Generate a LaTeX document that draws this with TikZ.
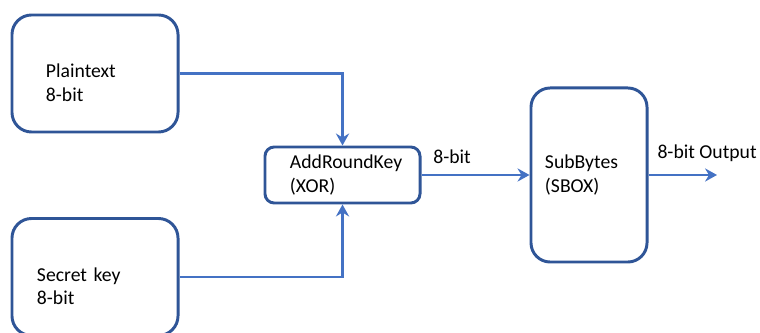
\documentclass[tikz,border=0pt]{standalone}
\usepackage{fontspec}
\setmainfont{Carlito}
\usepackage{tikz}
\usetikzlibrary{arrows.meta,positioning}
\definecolor{boxline}{HTML}{2F5597}
\definecolor{flowline}{HTML}{4472C4}
\newcommand{\toppad}{\rule{0pt}{23pt}}

\begin{document}
\begin{tikzpicture}[x=0.025cm, y=-0.025cm,
    font=\fontsize{14}{16.5}\selectfont,
    block/.style={draw=boxline, line width=2.1pt, align=left, inner ysep=0pt},
    flow/.style={draw=flowline, line width=1.6pt, -{Stealth[length=0.3cm, width=0.33cm, inset=0.1cm]}}]
  \useasboundingbox (0,0) rectangle (760,333);
  \node[block, rounded corners=0.49cm, minimum height=2.925cm, inner xsep=0.85cm, text width=2.45cm] (plain) at (95,73.5) {\toppad Plaintext\\8-bit};
  \node[block, rounded corners=0.49cm, minimum height=2.925cm, inner xsep=0.625cm, text width=2.9cm] (key) at (95,277) {\toppad Secret key\\8-bit};
  \node[block, rounded corners=0.23cm, minimum height=1.4cm, inner xsep=0.625cm, text width=2.625cm] (xor) at (342.5,175) {AddRoundKey\\(XOR)};
  \node[block, rounded corners=0.48cm, minimum height=4.35cm, inner xsep=0.35cm, text width=2.2cm] (sbox) at (589,175) {SubBytes\\(SBOX)};
  \coordinate (out) at (717,175);
  \draw[flow] (plain.east) -| (xor.north);
  \draw[flow] (key.east) -| (xor.south);
  \draw[flow] (xor) -- node[pos=0, anchor=south west, xshift=0.15cm, yshift=0.15cm] (xorlbl) {8-bit} (sbox);
  \draw[flow] (sbox) -- node[pos=0, anchor=south west, xshift=0.08cm, yshift=0.2cm] (outlbl) {8-bit Output} (out);
\end{tikzpicture}
\end{document}
